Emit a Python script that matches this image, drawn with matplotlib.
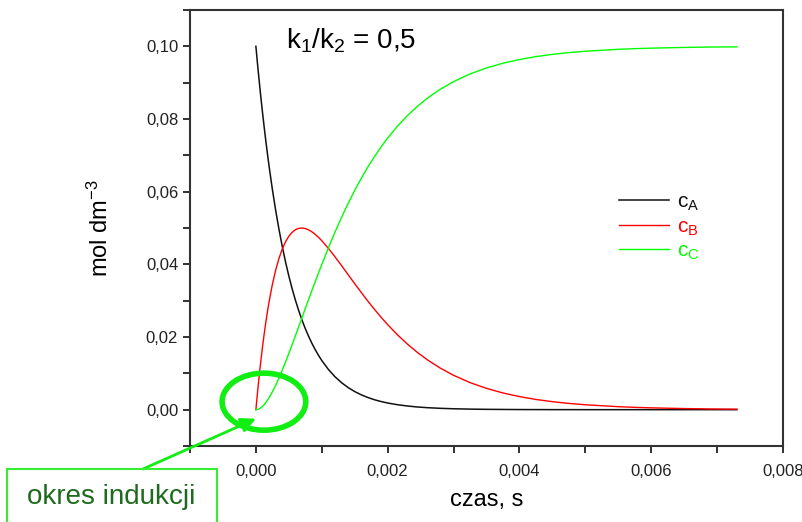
import numpy as np
import matplotlib
matplotlib.use("Agg")
import matplotlib.pyplot as plt
from matplotlib.patches import Ellipse, Rectangle
from matplotlib.ticker import MultipleLocator, FuncFormatter

plt.rcParams['font.family'] = ['Liberation Sans', 'DejaVu Sans']
plt.rcParams['mathtext.default'] = 'regular'

# czas [ms] i stezenia [mol dm-3]
t_ms = [0.0, 0.025, 0.05, 0.075, 0.1, 0.125, 0.15, 0.175, 0.2, 0.25, 0.3, 0.35,
        0.4, 0.45, 0.5, 0.55, 0.6, 0.65, 0.7, 0.75, 0.8, 0.85, 0.9, 0.95, 1.0,
        1.1, 1.2, 1.3, 1.4, 1.5, 1.6, 1.7, 1.8, 1.9, 2.0, 2.15, 2.3, 2.45, 2.6,
        2.8, 3.0, 3.25, 3.5, 3.75, 4.0, 4.25, 4.5, 4.75, 5.0, 5.5, 5.75, 6.0,
        6.5, 6.9, 7.3]
cA = [0.1, 0.09512, 0.09048, 0.08607, 0.08187, 0.07788, 0.07408, 0.07047, 0.06703,
      0.06065, 0.05488, 0.04966, 0.04493, 0.04066, 0.03679, 0.03329, 0.03012, 0.02725,
      0.02466, 0.02231, 0.02019, 0.01827, 0.01653, 0.01496, 0.01353, 0.01108, 0.00907,
      0.00743, 0.00608, 0.00498, 0.00408, 0.00334, 0.00273, 0.00224, 0.00183, 0.00136,
      0.00101, 0.00074, 0.00055, 0.00037, 0.00025, 0.00015, 0.00009, 0.00006, 0.00003,
      0.00002, 0.00001, 0.00001, 0.0, 0.0, 0.0, 0.0, 0.0, 0.0, 0.0]
cB = [0.0, 0.00482, 0.00928, 0.01341, 0.01722, 0.02074, 0.02398, 0.02695, 0.02968,
      0.03445, 0.03840, 0.04162, 0.04420, 0.04621, 0.04773, 0.04882, 0.04952, 0.04990,
      0.05000, 0.04985, 0.04949, 0.04895, 0.04825, 0.04743, 0.04651, 0.04441, 0.04209,
      0.03965, 0.03716, 0.03467, 0.03223, 0.02986, 0.02760, 0.02544, 0.02340, 0.02058,
      0.01804, 0.01577, 0.01375, 0.01142, 0.00946, 0.00745, 0.00586, 0.00459, 0.00360,
      0.00281, 0.00220, 0.00172, 0.00135, 0.00082, 0.00064, 0.00050, 0.00030, 0.00020,
      0.00014]
cC = [0.0, 0.00006, 0.00024, 0.00052, 0.00091, 0.00138, 0.00194, 0.00258, 0.00329,
      0.00490, 0.00672, 0.00872, 0.01087, 0.01313, 0.01548, 0.01789, 0.02036, 0.02285,
      0.02534, 0.02784, 0.03032, 0.03278, 0.03522, 0.03761, 0.03996, 0.04451, 0.04884,
      0.05292, 0.05676, 0.06035, 0.06369, 0.06680, 0.06967, 0.07232, 0.07477, 0.07806,
      0.08095, 0.08349, 0.08570, 0.08821, 0.09029, 0.09240, 0.09405, 0.09535, 0.09637,
      0.09717, 0.09779, 0.09828, 0.09865, 0.09918, 0.09936, 0.09950, 0.09970, 0.09980,
      0.09986]

t = np.array(t_ms) / 1000.0

fig = plt.figure(figsize=(8.03, 5.22), dpi=100)
ax = fig.add_axes([190/803, 1-446/522, (783-190)/803, (446-10)/522])

ax.plot(t, cA, color='#111111', lw=1.1, label='c$_A$')
ax.plot(t, cB, color='red', lw=1.0, label='c$_B$')
ax.plot(t, cC, color='#00ff00', lw=1.0, label='c$_C$')

ax.set_xlim(-0.001, 0.008)
ax.set_ylim(-0.01, 0.11)
ax.xaxis.set_major_locator(MultipleLocator(0.002))
ax.xaxis.set_minor_locator(MultipleLocator(0.001))
ax.yaxis.set_major_locator(MultipleLocator(0.02))
ax.yaxis.set_minor_locator(MultipleLocator(0.01))
ax.xaxis.set_major_formatter(FuncFormatter(lambda v, p: f"{v:.3f}".replace('.', ',')))
ax.yaxis.set_major_formatter(FuncFormatter(lambda v, p: f"{v:.2f}".replace('.', ',')))
ax.tick_params(which='both', direction='out', length=5, width=1.3, colors='#222222',
               labelsize=12, top=False, right=False)
ax.tick_params(axis='x', pad=8)
for s in ax.spines.values():
    s.set_linewidth(1.5)
    s.set_color('#333333')

ax.set_xlabel('czas, s', fontsize=17, labelpad=7)
ax.set_ylabel('mol dm$^{-3}$', fontsize=17, labelpad=24)

ax.text(0.00045, 0.1015, 'k$_1$/k$_2$ = 0,5', fontsize=20, va='center')

leg = ax.legend(loc='upper left', bbox_to_anchor=(600/803, 1-174/522),
                bbox_transform=fig.transFigure, frameon=False, fontsize=15,
                handlelength=2.4, labelspacing=0.2, handletextpad=0.4,
                labelcolor='linecolor')

# zaznaczenie okresu indukcji
ax.add_patch(Ellipse((0.000122, 0.0022), 0.00127, 0.0157, fill=False,
                     edgecolor='#11ee11', lw=4, zorder=5))
ax.annotate('', xy=(0.0, -0.0025), xycoords='data',
            xytext=(143, 522-469), textcoords='figure pixels',
            arrowprops=dict(arrowstyle='-|>', color='#11ee11', lw=2,
                            mutation_scale=22, shrinkA=0, shrinkB=0),
            annotation_clip=False)
fig.patches.append(Rectangle((7, -5), 210, 58, transform=None, fill=False,
                             edgecolor='#33ee33', lw=1.5, figure=fig))
fig.text(111/803, 25/522, 'okres indukcji', fontsize=20, color='#1e6b1e',
         ha='center', va='center')

fig.savefig('out.png', dpi=100)
